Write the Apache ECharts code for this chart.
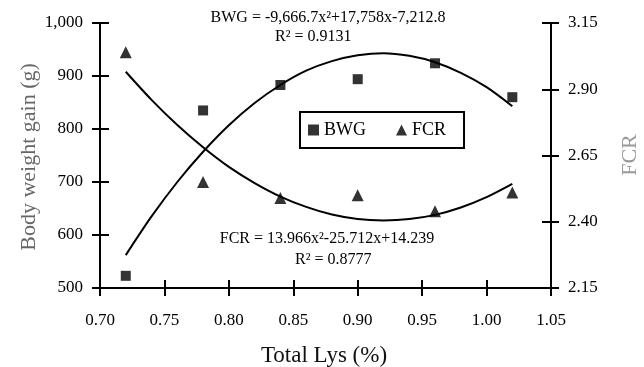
<!DOCTYPE html>
<html>
<head>
<meta charset="utf-8">
<script src="https://cdn.jsdelivr.net/npm/echarts@6/dist/echarts.min.js"></script>
<style>
html,body{margin:0;padding:0;background:#fff;}
#chart{width:644px;height:367px;}
</style>
</head>
<body>
<div id="chart"></div>
<script>
// Observed data
const lysLevels = [0.72, 0.78, 0.84, 0.90, 0.96, 1.02];
const bwgValues = [523, 835, 883, 894, 924, 860];
const fcrValues = [3.04, 2.55, 2.49, 2.50, 2.44, 2.51];
// Trend curves
const trendLys = [0.72, 0.74, 0.76, 0.78, 0.80, 0.82, 0.84, 0.86, 0.88, 0.90, 0.92, 0.94, 0.96, 0.98, 1.00, 1.02];
const bwgTrend = [562, 635, 700, 757, 807, 849, 883, 910, 928, 939, 943, 938, 926, 906, 879, 843];
const fcrTrend = [2.966, 2.860, 2.765, 2.681, 2.607, 2.546, 2.495, 2.456, 2.427, 2.410, 2.405, 2.410, 2.426, 2.454, 2.493, 2.543];
// Axis settings
const xTicks = {min: 0.70, max: 1.05, interval: 0.05};
const bwgTicks = {min: 500, max: 1000, interval: 100};
const fcrTicks = {min: 2.15, max: 3.15, interval: 0.25};
// Texts
const xName = 'Total Lys (%)';
const yLeftName = 'Body weight gain (g)';
const yRightName = 'FCR';
const bwgEq = 'BWG = -9,666.7x²+17,758x-7,212.8';
const bwgR2 = 'R² = 0.9131';
const fcrEq = 'FCR = 13.966x²-25.712x+14.239';
const fcrR2 = 'R² = 0.8777';

const FONT = 'Liberation Serif';
const zip = (a, b) => a.map((v, i) => [v, b[i]]);

const chart = echarts.init(document.getElementById('chart'), null, {renderer: 'canvas'});
const lineStyleAxis = {show: true, lineStyle: {color: '#000', width: 2}};
const labelStyle = {color: '#000', fontFamily: FONT, fontSize: 17};

function yAx(t, pos, inside, showLabel, fmt) {
  return {
    type: 'value', position: pos, min: t.min, max: t.max, interval: t.interval,
    axisLine: inside ? {show: false} : lineStyleAxis,
    axisTick: {show: true, inside: inside, length: inside ? 9 : 8, lineStyle: {color: '#000', width: 2}},
    axisLabel: Object.assign({show: showLabel, margin: 17, formatter: fmt}, labelStyle),
    splitLine: {show: false}
  };
}

const option = {
  backgroundColor: '#fff',
  animation: false,
  grid: {left: 100, right: 93, top: 23, bottom: 79, containLabel: false},
  xAxis: [
    {
      type: 'value', position: 'bottom', min: xTicks.min, max: xTicks.max, interval: xTicks.interval,
      axisLine: lineStyleAxis,
      axisTick: {show: true, length: 8, lineStyle: {color: '#000', width: 2}},
      axisLabel: Object.assign({margin: 24, formatter: v => v.toFixed(2)}, labelStyle),
      splitLine: {show: false}
    },
    {
      type: 'value', position: 'bottom', min: xTicks.min, max: xTicks.max, interval: xTicks.interval,
      axisLine: {show: false},
      axisTick: {show: true, inside: true, length: 8, lineStyle: {color: '#000', width: 2}},
      axisLabel: {show: false},
      splitLine: {show: false}
    }
  ],
  yAxis: [
    yAx(bwgTicks, 'left', false, true, v => v.toLocaleString('en-US')),
    yAx(fcrTicks, 'right', false, true, v => v.toFixed(2)),
    yAx(bwgTicks, 'left', true, false),
    yAx(fcrTicks, 'right', true, false)
  ],
  legend: {
    left: 300, top: 112,
    data: ['BWG', 'FCR'],
    orient: 'horizontal',
    borderColor: '#000', borderWidth: 2,
    padding: [9, 18, 9, 8],
    itemGap: 30, itemWidth: 11, itemHeight: 11,
    textStyle: {color: '#000', fontFamily: FONT, fontSize: 18, lineHeight: 18},
    backgroundColor: '#fff'
  },
  series: [
    {
      name: 'BWG trend', type: 'line', xAxisIndex: 0, yAxisIndex: 0, smooth: 0.3,
      showSymbol: false, symbol: 'none', data: zip(trendLys, bwgTrend),
      lineStyle: {color: '#000', width: 2}, z: 2
    },
    {
      name: 'FCR trend', type: 'line', xAxisIndex: 0, yAxisIndex: 1, smooth: 0.3,
      showSymbol: false, symbol: 'none', data: zip(trendLys, fcrTrend),
      lineStyle: {color: '#000', width: 2}, z: 2
    },
    {
      name: 'BWG', type: 'scatter', xAxisIndex: 0, yAxisIndex: 0, symbol: 'rect', symbolSize: 10,
      itemStyle: {color: '#000'}, data: zip(lysLevels, bwgValues), z: 3
    },
    {
      name: 'FCR', type: 'scatter', xAxisIndex: 0, yAxisIndex: 1, symbol: 'triangle', symbolSize: 12,
      itemStyle: {color: '#000'}, data: zip(lysLevels, fcrValues), z: 3
    }
  ],
  graphic: [
    {type: 'text', x: 328, y: 18, style: {text: bwgEq, fill: '#000', font: '16px "' + FONT + '"', textAlign: 'center', textVerticalAlign: 'middle'}},
    {type: 'text', x: 275, y: 37, style: {text: bwgR2, fill: '#000', font: '16px "' + FONT + '"', textAlign: 'left', textVerticalAlign: 'middle'}},
    {type: 'text', x: 327, y: 239, style: {text: fcrEq, fill: '#000', font: '16px "' + FONT + '"', textAlign: 'center', textVerticalAlign: 'middle'}},
    {type: 'text', x: 295, y: 260, style: {text: fcrR2, fill: '#000', font: '16px "' + FONT + '"', textAlign: 'left', textVerticalAlign: 'middle'}},
    {type: 'text', x: 324, y: 356, style: {text: xName, fill: '#111', font: '23px "' + FONT + '"', textAlign: 'center', textVerticalAlign: 'middle'}},
    {type: 'text', x: 29, y: 157, rotation: Math.PI / 2, style: {text: yLeftName, fill: '#666', font: '22px "' + FONT + '"', textAlign: 'center', textVerticalAlign: 'middle'}},
    {type: 'text', x: 630, y: 155, rotation: Math.PI / 2, style: {text: yRightName, fill: '#999', font: '22px "' + FONT + '"', textAlign: 'center', textVerticalAlign: 'middle'}}
  ]
};
chart.setOption(option);
</script>
</body>
</html>
